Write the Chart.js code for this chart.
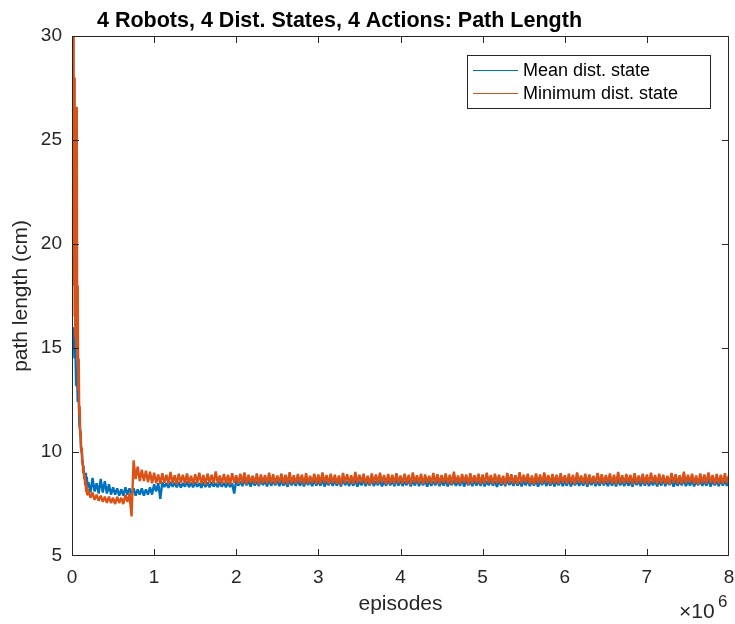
<!DOCTYPE html>
<html><head><meta charset="utf-8">
<script src="https://cdn.jsdelivr.net/npm/chart.js@4"></script>
<style>html,body{margin:0;padding:0;background:#fff}</style>
</head><body>
<canvas id="c" width="735" height="624"></canvas>
<script>
// ---- data (x in millions of episodes) ----
const titleText = "4 Robots, 4 Dist. States, 4 Actions: Path Length";
const seriesNames = ["Mean dist. state", "Minimum dist. state"];
const xTicks = [0,1,2,3,4,5,6,7,8];
const yTicks = [5,10,15,20,25,30];

// initial steep drop, explicit x positions
const meanEarlyX = [0.02,0.03,0.04,0.05,0.06,0.07,0.08,0.09,0.1,0.11,0.12,0.13,0.14,0.15,0.16,0.17,0.18,0.19];
const meanEarlyY = [16.0,14.5,15.3,13.2,14.0,12.4,12.8,11.3,11.0,10.2,10.0,9.4,9.3,8.8,9.0,8.5,8.8,8.3];
const minEarlyX = [0.015,0.02,0.025,0.03,0.035,0.04,0.046,0.052,0.058,0.064,0.07,0.076,0.082,0.088,0.094,0.1,0.106,0.112,0.118,0.124,0.13,0.136,0.142,0.148,0.154,0.16,0.166,0.172,0.178,0.184,0.19];
const minEarlyY = [30,18,28,16.5,24,15.5,21,15,26.6,14.5,18,13,14.5,11.8,12.2,10.8,11,10,10.2,9.5,9.6,9.0,9.2,8.7,8.9,8.4,8.6,8.1,8.4,7.95,8.2];

// sampled band from 0.2M to 8M, every 0.025M
const gridStart = 0.2, gridStep = 0.025;
const meanGrid = [
8.55,8.05,8.75,8.1,8.5,8.0,8.7,8.05,8.6,8.0,8.45,7.95,8.3,7.95,8.25,7.9,8.2,7.9,8.3,7.95,
8.25,7.95,8.25,7.9,8.2,7.95,8.25,7.9,8.2,7.95,8.3,7.95,
8.45,8.1,8.5,7.75,
8.55,8.32,8.5,8.28,8.56,8.33,8.52,8.3,8.55,8.29,8.5,8.34,8.57,8.31,8.52,8.3,8.55,8.33,8.5,8.28,
8.56,8.32,8.53,8.3,8.55,8.34,8.5,8.31,8.57,8.33,8.52,8.3,8.55,8.32,8.5,8.0,
8.65,8.38,8.6,8.36,8.68,8.4,8.62,8.34,8.66,8.39,8.6,8.37,8.64,8.41,8.62,8.35,8.67,8.38,8.61,8.4,
8.65,8.36,8.63,8.39,8.6,8.33,8.66,8.4,8.62,8.37,8.68,8.38,8.6,8.35,8.64,8.41,8.61,8.36,8.66,8.39,
8.62,8.38,8.67,8.34,8.6,8.4,8.65,8.37,8.61,8.39,8.64,8.35,8.68,8.41,8.6,8.37,8.63,8.38,8.66,8.34,
8.61,8.4,8.65,8.36,8.62,8.39,8.68,8.37,8.6,8.41,8.64,8.35,8.61,8.38,8.66,8.4,8.62,8.36,8.67,8.39,
8.64,8.37,8.6,8.41,8.66,8.35,8.62,8.39,8.68,8.36,8.61,8.4,8.65,8.33,8.63,8.38,8.6,8.4,8.67,8.36,
8.62,8.39,8.66,8.35,8.6,8.41,8.64,8.37,8.61,8.38,8.68,8.34,8.63,8.4,8.6,8.36,8.65,8.39,8.62,8.37,
8.67,8.35,8.61,8.4,8.64,8.38,8.6,8.32,8.66,8.39,8.62,8.36,8.68,8.41,8.61,8.37,8.65,8.38,8.6,8.35,
8.63,8.4,8.66,8.36,8.61,8.39,8.65,8.34,8.62,8.41,8.67,8.37,8.6,8.38,8.64,8.35,8.61,8.4,8.66,8.36,
8.62,8.38,8.68,8.35,8.6,8.4,8.64,8.37,8.61,8.39,8.66,8.33,8.62,8.41,8.65,8.36,8.6,8.38,8.67,8.4,
8.61,8.36,8.65,8.39,8.62,8.35,8.68,8.4,8.6,8.37,8.64,8.38,8.61,8.34,8.66,8.41,8.62,8.36,8.67,8.39,
8.64,8.37,8.6,8.4,8.66,8.35,8.62,8.39,8.68,8.36,8.61,8.41,8.65,8.34,8.63,8.38,8.6,8.4,8.67,8.36,
8.62,8.39,8.66,8.35,8.6,8.41,8.64,8.37,8.61,8.38,8.68,8.34,8.63,8.4,8.6,8.36,8.65,8.39,8.62,8.37,
8.64
];
const minGrid = [
8.15,7.8,8.05,7.7,7.95,7.65,7.9,7.6,7.85,7.55,7.85,7.55,7.8,7.5,7.85,7.55,7.8,7.5,7.95,7.6,
8.0,6.9,9.6,8.7,9.3,8.6,9.15,8.6,9.1,8.55,9.05,8.5,
9.0,8.5,8.92,8.46,8.98,8.52,8.9,8.48,9.04,8.5,8.88,8.44,8.95,8.53,8.9,8.47,8.97,8.5,8.86,8.45,
8.93,8.51,9.0,8.47,8.89,8.43,8.96,8.52,8.91,8.48,9.06,8.5,8.87,8.46,8.94,8.49,8.9,8.44,8.98,8.52,
8.88,8.47,8.95,8.5,9.02,8.45,8.9,8.53,8.86,8.48,8.97,8.44,8.92,8.51,8.89,8.47,9.0,8.5,8.93,8.46,
8.87,8.52,8.96,8.48,8.9,8.45,9.03,8.5,8.88,8.47,8.94,8.53,8.91,8.44,8.98,8.49,8.86,8.51,8.95,8.46,
8.92,8.48,9.01,8.52,8.89,8.45,8.96,8.5,8.9,8.47,8.87,8.43,8.99,8.51,8.93,8.48,8.88,8.46,9.04,8.5,
8.9,8.53,8.95,8.47,8.86,8.44,8.97,8.5,8.92,8.48,9.0,8.52,8.89,8.45,8.94,8.49,8.91,8.46,8.98,8.51,
8.87,8.47,8.96,8.5,8.9,8.44,9.02,8.52,8.88,8.48,8.95,8.45,8.92,8.51,8.86,8.47,8.99,8.5,8.93,8.46,
8.89,8.52,8.97,8.48,8.9,8.45,9.05,8.5,8.87,8.47,8.94,8.53,8.91,8.44,8.98,8.49,8.88,8.51,8.95,8.46,
8.92,8.48,9.0,8.52,8.89,8.45,8.96,8.5,8.9,8.47,8.86,8.43,8.99,8.51,8.93,8.48,8.88,8.46,9.03,8.5,
8.9,8.53,8.95,8.47,8.87,8.44,8.97,8.5,8.92,8.48,9.01,8.52,8.89,8.45,8.94,8.49,8.91,8.46,8.98,8.51,
8.88,8.47,8.96,8.5,8.9,8.44,9.02,8.52,8.87,8.48,8.95,8.45,8.92,8.51,8.86,8.47,8.99,8.5,8.93,8.46,
8.89,8.52,8.97,8.48,8.91,8.45,9.04,8.5,8.88,8.47,8.94,8.53,8.9,8.44,8.98,8.49,8.87,8.51,8.95,8.46,
8.92,8.48,9.0,8.52,8.89,8.45,8.96,8.5,8.9,8.47,8.86,8.43,8.99,8.51,8.93,8.48,8.88,8.46,9.05,8.5,
8.9,8.53,8.95,8.47,8.87,8.44,8.97,8.5,8.92,8.48,9.01,8.52,8.89,8.45,8.94,8.49,8.91,8.46,8.98,8.51,
8.9
];

const BLUE = '#0072BD', ORANGE = '#D95319', AX = '#262626';
const FONT = '"Liberation Sans", Arial, Helvetica, sans-serif';

function buildPoints(ex, ey, grid) {
  const pts = ex.map((x, i) => ({x, y: ey[i]}));
  grid.forEach((y, i) => pts.push({x: gridStart + i * gridStep, y}));
  return pts;
}

const framePlugin = {
  id: 'frame',
  afterDatasetsDraw(chart) {
    const {ctx, chartArea: a, scales: {x, y}} = chart;
    ctx.save();
    ctx.strokeStyle = AX; ctx.lineWidth = 1;
    const L = a.left + 0.5, R = a.right - 0.5, T = a.top + 0.5, B = a.bottom - 0.5;
    ctx.beginPath();
    ctx.moveTo(L, T); ctx.lineTo(R, T); ctx.lineTo(R, B); ctx.lineTo(L, B); ctx.closePath();
    ctx.stroke();
    const tl = 6.5;
    ctx.beginPath();
    xTicks.forEach(v => {
      const px = Math.min(Math.round(x.getPixelForValue(v)) + 0.5, R);
      ctx.moveTo(px, B); ctx.lineTo(px, B - tl);
      ctx.moveTo(px, T); ctx.lineTo(px, T + tl);
    });
    yTicks.forEach(v => {
      const py = Math.min(Math.round(y.getPixelForValue(v)) + 0.5, B);
      ctx.moveTo(L, py); ctx.lineTo(L + tl, py);
      ctx.moveTo(R, py); ctx.lineTo(R - tl, py);
    });
    ctx.stroke();

    // legend
    ctx.fillStyle = '#fff';
    ctx.fillRect(467, 55, 243, 53);
    ctx.strokeStyle = AX;
    ctx.strokeRect(467.5, 55.5, 243, 53);
    const rows = [[BLUE, seriesNames[0], 70], [ORANGE, seriesNames[1], 93]];
    ctx.font = '18px ' + FONT;
    ctx.textBaseline = 'middle'; ctx.textAlign = 'left';
    rows.forEach(([c, t, yy]) => {
      ctx.strokeStyle = c; ctx.lineWidth = 1.2;
      ctx.beginPath(); ctx.moveTo(473, yy + 0.5); ctx.lineTo(518, yy + 0.5); ctx.stroke();
      ctx.fillStyle = '#000';
      ctx.fillText(t, 523, yy + 1);
    });

    // title
    ctx.fillStyle = '#000';
    ctx.font = 'bold 21.5px ' + FONT;
    ctx.textAlign = 'left'; ctx.textBaseline = 'alphabetic';
    ctx.fillText(titleText, 97, 27);

    // exponent label
    ctx.fillStyle = AX;
    ctx.font = '21px ' + FONT;
    ctx.fillText('\u00D710', 679, 618);
    ctx.font = '17px ' + FONT;
    ctx.fillText('6', 718, 607);
    ctx.restore();
  }
};

new Chart(document.getElementById('c'), {
  type: 'line',
  data: {
    datasets: [
      { label: seriesNames[0], data: buildPoints(meanEarlyX, meanEarlyY, meanGrid),
        borderColor: BLUE, borderWidth: 2.4, borderJoinStyle: 'bevel', pointRadius: 0, tension: 0, fill: false, order: 2 },
      { label: seriesNames[1], data: buildPoints(minEarlyX, minEarlyY, minGrid),
        borderColor: ORANGE, borderWidth: 2.4, borderJoinStyle: 'bevel', pointRadius: 0, tension: 0, fill: false, order: 1 }
    ]
  },
  options: {
    responsive: false,
    animation: false,
    parsing: false,
    normalized: true,
    layout: { padding: { top: 36, right: 6, left: 0, bottom: 0 } },
    plugins: { legend: { display: false }, tooltip: { enabled: false }, title: { display: false } },
    scales: {
      x: {
        type: 'linear', min: 0, max: 8,
        afterBuildTicks: s => { s.ticks = xTicks.map(v => ({value: v})); },
        afterFit: s => { s.height = 68; s.paddingLeft = 0; s.paddingRight = 0; },
        grid: { display: false, drawTicks: false },
        border: { display: false },
        ticks: { color: AX, font: { family: FONT, size: 19 }, padding: 10, maxRotation: 0 },
        title: { display: true, text: 'episodes', color: AX, font: { family: FONT, size: 21 }, padding: { bottom: 7 } }
      },
      y: {
        type: 'linear', min: 5, max: 30,
        afterBuildTicks: s => { s.ticks = yTicks.map(v => ({value: v})); },
        afterFit: s => { s.width = 72; s.paddingTop = 0; s.paddingBottom = 0; },
        grid: { display: false, drawTicks: false },
        border: { display: false },
        ticks: { color: AX, font: { family: FONT, size: 19 }, padding: 10 },
        title: { display: true, text: 'path length (cm)', color: AX, font: { family: FONT, size: 21 }, padding: { top: 9 } }
      }
    }
  },
  plugins: [framePlugin]
});
</script>
</body></html>
